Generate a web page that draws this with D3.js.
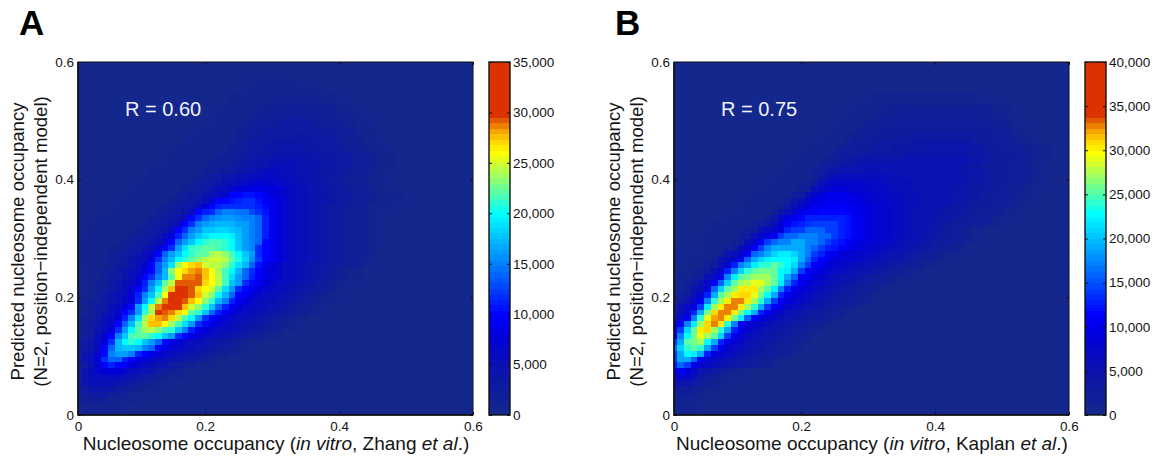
<!DOCTYPE html>
<html>
<head>
<meta charset="utf-8">
<script src="https://cdnjs.cloudflare.com/ajax/libs/d3/7.8.5/d3.min.js"></script>
<style>
	html, body { margin: 0; padding: 0; background: #fff; }
	svg { display: block; }
	text { font-family: "Liberation Sans", Arial, sans-serif; fill: #141414; }
</style>
</head>
<body>
<div id="viz"></div>
<script>
// counts in thousands. rowStart = first column that is listed, rest of the row is 0
const rowStartA = [0,0,0,0,0,0,0,0,0,0,0,0,0,0,0,0,0,0,0,0,0,0,0,1,1,0,0,0,0,0,0,1,2,3,4,5,6,7,8,9,10,11,12,13,14,15,16,17,18,19,20,21,22,23,23,25,26,27];
const rowsA = [
	[1,1,1,1,1,1],
	[1,1,1,1,1,1,1],
	[1,2,2,2,2,1,1,1,1],
	[2,2,3,3,3,2,2,1.5,1,1,1],
	[2,3,4,4,4,3.5,3,2.5,2,1.5,1,1,1],
	[2,4,5,5,5,5,4,3.5,3,2.5,2,1.5,1,1,1],
	[3,4,5,6,6,6,6,5,4.5,4,3,2.5,2,1.5,1,1,1],
	[2,4,6,7,8,8,8,7,6,5,4.5,4,3,2.5,2,1.5,1,1,1],
	[2,3,5,7,10,11,10,9,8,7,6,5,4.5,4,3,2.5,2,1.5,1,1,1],
	[3,4,6,8,12,14,14,11,10,8.5,7.5,6.5,5.5,5,4.5,4,3.5,3,2.5,2,1.5,1,1],
	[2,4,5,7,10,15,16,16,15,11,10,8.5,7.5,6.5,5.5,5,4.5,4,3.5,3,2.5,2,1.5,1,1],
	[2,3,4,6,10,14,17,18,18,17,15,14,10,8.5,7.5,6.5,5.5,5,4.5,4,3.5,3,2.5,2,1.5,1,1],
	[2,3,4,6,8,12,17,20,21,20,18,16,14,10,8.5,7.5,6.5,5.5,5,4.5,4,3.5,3,2.5,2,1.5,1,1],
	[1,2,3,5,7,10,15,18,21.5,22,22,21,20,18,16,12,10,8.5,7.5,6.5,5.5,5,4.5,4,3.5,3,2.5,2,1.5,1,1],
	[1,2,3,4,6,8,12,16,20,22,24,24.5,23,21.5,21,18,15,11,9,8,7,6,5.5,5,4.5,4,3.5,3,2.5,2,1.5,1,1],
	[1,2,3,4,5,7,10,14,17,21.5,24.5,27.5,27.8,26,24,21.5,19,16,12,10,8.5,7.5,6.5,5.5,5,4.5,4,3.5,3,2.5,2,1.5,1,1],
	[1,2,2,3,5,6,8,11,15,19,24,27,28,28.5,27,24.5,21.5,20,16,12,10,8.5,7.5,6.5,5.5,5,4.5,4,3.5,3,2.5,2,1.5,1,1],
	[1,1,2,3,4,5,7,10,12,16,21,24,31,29.5,28.5,27,26,22,21,18,14,11,9,8,7,6,5.5,5,4.5,4,3.5,3,2.5,2,1.5,1,1],
	[1,1,2,3,3,5,6,8,10,16,20,24.5,28.5,31,31,31,27.8,25,23,21,18,14,11,9,8,7,6,5.5,5,4.5,4,3.5,3,2.5,2,1.5,1,1],
	[1,1,2,2,3,4,5,7,8,12,16,20,24.5,28.5,31,31,29.5,27.8,26,23,21,17,15,11,9,8,7,6,5.5,5,4.5,4,3.5,3,2.5,2,1.5,1,1],
	[1,1,1,2,3,4,5,6,8,11,15,18,21.5,26,31,31,31,29,27.5,25,23,20,17,14,10,9,8,7,6,5.5,5,4.5,4,3.5,3,2.5,2,1.5,1,1],
	[0,1,1,2,2,3,4,6,7,10,12,16,20,24,27.8,31,31,29,27,26,25,22,19,16,12,10,9,8,7,6,5.5,5,4.5,4,3.5,3,2.5,2,1.5,1,1],
	[0,1,1,2,2,3,4,5,6,8,11,15,18,22,24.5,29,29.5,29,29,27,26,24.5,21.5,18,16,12,10,9,8,7,6,5.5,5,4.5,4,3.5,3,2.5,2,1.5,1,1],
	[1,1,1,2,3,3,4,5,7,10,12,15,17,22,26,28.5,28.5,29,27.8,26,24.5,21.5,19,16,14,11,9.5,8.5,7.5,7,6,5.5,5,4.5,4,3.5,3,2.5,2,1.5,1,1],
	[1,1,1,2,2,3,4,5,6,8,10,14,17,23,26,27,28,28.5,27.5,26,24,21.5,20,17,14,12,10,8.5,7.5,7,6,5.5,5,4.5,4,3.5,3,2.5,2,1.5,1,1],
	[1,1,1,1,1,2,3,3,4,5,7,10,14,16,19,24,26,27,27.8,25,24.5,24.5,23,21,19,17,14,10.5,9,8,7,6,5.5,5,4.5,4,3.5,3,3,2.5,2,2,1.5,1],
	[1,1,1,1,1,2,2,3,4,5,6,8,12,15,17,20,21,22,23.5,24.5,25,25,24.5,22,20.5,18.5,15.5,12.5,10,9,8,7,6,5.5,5,4.5,4,3.5,3,3,2.5,2,2,1.5,1],
	[1,1,1,1,1,2,2,3,3,4,5,7,10,14,16,18,20,21,22,22,24,24.5,23,21.5,20,18,16,12,10,9,8,7,6,5.5,5,4.5,4,3.5,3,3,2.5,2,2,1.5,1],
	[1,1,1,1,1,1,2,2,3,3,4,5,7,10,12,16,19,21,21.5,22,22,21.5,21,20,18,16,15,12,10,9,8,7,6,5.5,5,4.5,4,3.5,3,3,2.5,2,2,1.5,1],
	[1,1,1,1,1,1,1,2,2,3,3,4,5,7,10,14,16,18,20,21,21.5,21.5,21,20,18,16,15,14,10,9,8,7,6,5.5,5,4.5,4,3.5,3,3,2.5,2,2,1.5,1,1],
	[1,1,1,1,1,1,1,1,2,2,3,3,4,6,8,11,14,16,18,19,20,20,20,19.5,18,16,15,14,11,9,8,7,6,5.5,5,4.5,4,3.5,3,3,2.5,2,2,1.5,1,1],
	[1,1,1,1,1,1,1,1,2,2,3,3,4,6,10,12,15,16,17.5,18,18.5,18.5,18,17,16,15,14,11,9,8,7,6,5.5,5,4.5,4,3.5,3,3,2.5,2,2,1.5,1,1],
	[1,1,1,1,1,1,1,1,2,2,3,3,4,6,10,12,15,16,16.5,17,17,17,16,16,15,14,11,9,8,7,6,5.5,5,4.5,4,3.5,3,3,2.5,2,2,1.5,1,1],
	[1,1,1,1,1,1,1,1,2,2,3,3,4,6,10,12,14,15,15.5,16,16,15.5,15,15,14,11,9,8,7,6,5.5,5,4.5,4,3.5,3,3,2.5,2,2,1.5,1,1],
	[1,1,1,1,1,1,1,1,2,2,3,3,4,6,10,11,12,14,15,15,14.5,14.5,13,12,10.5,9,8,7,6,5.5,5,4.5,4,3.5,3,3,2.5,2,2,1.5,1,1,1],
	[1,1,1,1,1,1,1,1,2,2,3,3,4,6,8,10,11,11.5,12,12,12,12,11,10,9,8,7,6,5.5,5,4.5,4,3.5,3,3,2.5,2,2,1.5,1,1,1,1],
	[1,1,1,1,1,1,1,1,2,2,3,3,4,5,7,10,10,10.5,11,11.5,11.5,10.5,9.5,9,8,7,6,5.5,5,4.5,4,4,3.5,3,3,2.5,2,2,1.5,1,1,1,1],
	[1,1,1,1,1,1,1,1,2,2,3,3,4,5,6,7,10,10,10.5,10.5,10,9,8,7.5,7,6,5.5,5,4.5,4,4,3.5,3,3,2.5,2,2,1.5,1,1,1,1],
	[1,1,1,1,1,1,1,1,2,2,3,3,4,5,6,7,8,8,8.5,8.5,8.5,8,7.5,7,6,5.5,5,4.5,4,4,3.5,3,3,2.5,2,2,1.5,1,1,1],
	[1,1,1,1,1,1,1,1,2,2,3,3,4,5,5,6,6.5,7,7.5,7.5,7,6.5,6,5.5,5,4.5,4,4,3.5,3,3,2.5,2,2,1.5,1,1,1],
	[1,1,1,1,1,1,1,1,2,2,3,3,4,4,5,5,5.5,6,6.5,6.5,6,5.5,5,5,4.5,4,4,3.5,3,3,2.5,2,2,1.5,1,1,1],
	[1,1,1,1,1,1,1,1,2,2,2,3,3,3.5,4,4.5,5,5.5,5.5,5.5,5,5,4.5,4.5,4,4,3.5,3.5,3,3,2.5,2,2,1.5,1,1,1],
	[1,1,1,1,1,1,1,1,2,2,2,3,3,3.5,4,4,4.5,5,5,5,5,4.5,4.5,4,4,3.5,3.5,3,3,2.5,2,2,1.5,1,1,1],
	[1,1,1,1,1,1,1,1,2,2,2,2.5,3,3.5,4,4,4.5,4.5,4.5,4.5,4.5,4,4,4,3.5,3.5,3,3,2.5,2,2,1.5,1,1,1],
	[1,1,1,1,1,1,1,1,2,2,2.5,3,3,3.5,3.5,4,4,4,4,4,4,4,3.5,3.5,3.5,3,3,2.5,2,2,1.5,1,1,1],
	[1,1,1,1,1,1,1,1,2,2,2.5,3,3,3.5,3.5,3.5,4,4,4,3.5,3.5,3.5,3,3,3,2.5,2,2,1.5,1,1,1],
	[1,1,1,1,1,1,1,1,2,2.5,3,3,3,3.5,3.5,3.5,3.5,3.5,3.5,3.5,3,3,3,2.5,2,2,1.5,1,1,1],
	[1,1,1,1,1,1,1,1.5,2,2.5,2.5,3,3,3,3,3,3.5,3.5,3,3,3,2.5,2.5,2,2,1.5,1,1,1],
	[1,1,1,1,1,1,1.5,2,2,2.5,2.5,3,3,3,3,3,3,3,3,2.5,2.5,2,2,1.5,1,1,1],
	[1,1,1,1,1,1,1.5,2,2,2.5,2.5,2.5,3,3,3,3,2.5,2.5,2.5,2,2,1.5,1.5,1,1,1],
	[1,1,1,1,1,1,1.5,2,2,2,2.5,2.5,2.5,2.5,2.5,2.5,2,2,2,1.5,1.5,1,1,1],
	[1,1,1,1,1,1,1.5,1.5,2,2,2,2,2,2,2,2,2,1.5,1.5,1,1,1],
	[1,1,1,1,1,1,1.5,1.5,1.5,2,2,2,2,2,1.5,1.5,1.5,1,1,1],
	[1,1,1,1,1,1,1.5,1.5,1.5,1.5,1.5,1.5,1.5,1,1,1,1,1],
	[1,1,1,1,1,1,1,1,1,1,1,1,1,1,1,1,1],
	[1,1,1,1,1,1,1,1,1,1,1,1],
	[1,1,1,1,1,1,1,1],
	[1,1,1,1,1]
];

const rowStartB = [0,0,0,0,0,0,0,0,0,0,0,0,0,0,0,0,0,0,0,0,0,0,0,1,1,2,0,0,4,3,4,5,6,8,9,10,11,12,13,14,15,16,17,18,19,20,21,22,23,24,25,26,27,28,30];
const rowsB = [
	[1,1,1],
	[1,1,1,1],
	[1,1,1,1,1],
	[2,2,2,1.5,1,1],
	[3,3,3,2,1.5,1,1],
	[5,5,5,3.5,2.5,2,1.5,1,1],
	[7,8,7,6,4,3,2,1.5,1,1],
	[9,11,9,7,5.5,4.5,3.5,3,2,1.5,1,1],
	[13,16,14,10,8,7,6,5,4.5,4,3.5,3,2.5,2,1.5,1],
	[14,19,19,16,11,8,7,6,5,4.5,4,3.5,3,2.5,2,1.5,1],
	[14,19,23,22,19,13,9,8,7,6,5,4.5,4,3.5,3,2.5,2,1.5,1],
	[16,21,24,25,24,19,14,10,8,7,6,5,4.5,4,3.5,3,2.5,2,1.5,1],
	[14,19,25,26,27,23,19,13,10,8,7,6,5,4.5,4,3.5,3,2.5,2,1.5,1],
	[11,17,23,26,29,27,25,21,14,10,8,7,6,5,4.5,4,3.5,3,2.5,2,1.5,1],
	[8,14,21,25,30,31,27,24,19,13,10,8,7,6,5,4.5,4,3.5,3,2.5,2,1.5,1],
	[7,11,17,22,27,31,33,30,24,17,11,9,8,7,6,5,4.5,4,3.5,3,2.5,2,1.5,1],
	[5,7,11,17,24,29,32,33,30,26,22,16,11,9,8,7,6,5,4.5,4,3.5,3,2.5,2,1.5,1],
	[3,6,8,13,19,26,31,33,33,30,26,23,19,13,10,8,7,6,5,4.5,4,3.5,3,2.5,2,1.5,1],
	[2,5,7,9,14,22,27,30,33,33,30,27,24,19,14,11,9,8,7,6,5,4.5,4,3.5,3,2.5,2,1.5,1],
	[2,3,5,7,11,17,24,27,30,33,33,30,27,24,19,14,11,9,8,7,6,5,4.5,4,3.5,3,2.5,2,1.5,1],
	[1,2,3,6,8,13,19,25,27,30,31,31,29,26,23,19,13,10,9,8,7,6,5,4.5,4,3.5,3,2.5,2,1.5,1],
	[1,1,2,5,6,9,16,21,25,27,30,30,30,27,25,22,17,13,10,9,8,7,6,5,4.5,4,3.5,3,2.5,2,1.5,1],
	[1,1,2,3,5,7,11,16,21,25,27,28,29,29,27,25,22,17,13,10,9,8,7,6,5.5,5,4.5,4,3.5,3,2.5,2,1.5,1,1],
	[1,1,2,3,6,7,11,17,22,25,26,27,27,27,25,23,19,16,11,10,9,8,7,6,5.5,5,4.5,4,3.5,3,2.5,2,1.5,1,1],
	[1,1,1,2,3,6,8,13,17,21,24,25,26,26,25,23,22,19,14,11,10,9,8,7,6.5,6,5.5,5,4.5,4,3.5,3,2.5,2,1.5,1,1],
	[1,1,1,2,3,6,8,13,17,19,22,24,24,25,24,23,21,17,14,11,10,9,8,7.5,7,6.5,6,5.5,5,4.5,4,3.5,3,2.5,2,1.5,1,1],
	[1,1,1,1,1,1,2,5,6,8,11,16,19,21,22,23,23,23,22,19,16,13,11,10,9,8.5,8,7.5,7,6.5,6,5.5,5,4.5,4,3.5,3,2.5,2,1.5,1,1],
	[1,1,1,1,1,1,1,2,5,6,8,11,16,17,19,21,22,22,21,19,17,14,13,11,10,9,8.5,8,7.5,7,6.5,6,5.5,5,4.5,4,3.5,3,2.5,2,1.5,1,1],
	[1,1,1,1,2,3,6,8,11,14,17,19,19,19,19,19,17,16,14,13,12,11,10,9,8.5,8,7.5,7,6.5,6,5.5,5,4.5,4,3.5,3,2.5,2,1.5,1],
	[1,1,1,1,1,1,2,3,6,8,11,14,16,17,17,19,19,17,17,16,14,13,12,11,10,9,8.5,8,7.5,7,6.5,6,5.5,5,4.5,4,3.5,3,2.5,2,1.5,1,1],
	[1,1,1,1,1,1,2,3,6,8,9,11,14,16,16,17,17,17,16,16,14,13,12,11,10,9,8.5,8,7.5,7,6.5,6,5.5,5,4.5,4,3.5,3,2.5,2,1.5,1,1],
	[1,1,1,1,1,1,2,3,5,7,8,9,13,14,14,16,16,16,14,14,13,12,11,10,9,8.5,8,7.5,7,6.5,6,5.5,5,4.5,4,3.5,3,2.5,2,1.5,1,1],
	[1,1,1,1,1,1,2,3,4,6,9,11,12,13,13.5,14,14,14,14,13,12,11,10,9,8.5,8,7.5,7,6.5,6,5.5,5,4.5,4,4,3.5,3,3,2.5,2,2,1.5,1,1],
	[1,1,1,1,1,1,2,4,7,9,10,11.5,12.5,13,13,13,13,13,12,11,10,9,8.5,8,7.5,7,6.5,6,5.5,5,5,4.5,4,4,3.5,3,3,2.5,2,2,1.5,1,1],
	[1,1,1,1,1,1,2,4,6,8,10,11,11,11.5,11.5,11.5,11.5,11,10.5,10,9,8.5,8,7.5,7,6.5,6,5.5,5.5,5,5,4.5,4,4,3.5,3,3,2.5,2,2,1.5,1,1],
	[1,1,1,1,1,1,2,4,6,8,9,10,10.5,11,11,11,10.5,10,9.5,9,8.5,8,7.5,7,6.5,6,6,5.5,5.5,5,5,4.5,4,4,3.5,3,3,2.5,2,2,1.5,1,1],
	[1,1,1,1,1,1,2,4,6,8,9,10,10.5,10.5,10.5,10,9.5,9,8.5,8,7.5,7,7,6.5,6,6,5.5,5.5,5,5,5,4.5,4,4,3.5,3,3,2.5,2,2,1.5,1,1],
	[1,1,1,1,1,1,2,3,6,8,9,10,10,10,9.5,9,8.5,8,7.5,7,7,6.5,6.5,6,6,5.5,5.5,5,5,5,4.5,4.5,4,4,3.5,3,3,2.5,2,2,1.5,1,1],
	[1,1,1,1,1,1,2,3,6,7,8,8.5,9,8.5,8,8,7.5,7,7,6.5,6.5,6,6,5.5,5.5,5,5,5,5,4.5,4.5,4,4,3.5,3.5,3,2.5,2,2,1.5,1,1],
	[1,1,1,1,1,1,2,3,6,7,7.5,8,8,7.5,7.5,7,7,6.5,6.5,6,6,6,5.5,5.5,5,5,5,5,4.5,4.5,4.5,4,4,3.5,3,3,2.5,2,2,1.5,1,1],
	[1,1,1,1,1,1,2,3.5,5,6,6.5,6.5,6.5,6.5,6.5,6.5,6.5,6,6,6,5.5,5.5,5,5,5,5,5,5,4.5,4.5,4,4,3.5,3,3,2.5,2,2,1.5,1,1],
	[1,1,1,1,1,2,2.5,3.5,4.5,5,5.5,5.5,5.5,6,6,5.5,5.5,5.5,5.5,5.5,5,5,5,5,5,5,5,4.5,4.5,4.5,4,3.5,3,3,2.5,2.5,2,2,1.5,1,1],
	[1,1,1,1,1,2,2.5,3.5,4,4.5,4.5,5,5,5,5,5,5,5,5,5,5,5,5,5,5,5,4.5,4.5,4,3.5,3,3,2.5,2.5,2,2,1.5,1,1],
	[1,1,1,1,1,2,2.5,3,3.5,4,4,4.5,4.5,4.5,4.5,4.5,4.5,5,5,5,5,5,5,5,5,5,5,4.5,4,3.5,3,3,2.5,2.5,2,2,1.5,1,1],
	[1,1,1,1,1,2,2.5,3,3,3.5,3.5,4,4,4,4,4,4.5,4.5,4.5,4.5,4.5,4.5,4.5,4.5,4.5,4.5,4,4,3.5,3,3,2.5,2.5,2,2,1.5,1,1],
	[1,1,1,1,1,2,2.5,3,3,3,3.5,3.5,3.5,4,4,4,4,4,4,4.5,4.5,4.5,4.5,4.5,4.5,4,4,3.5,3,3,2.5,2,2,1.5,1.5,1,1],
	[1,1,1,1,1,2,2.5,2.5,3,3,3,3.5,3.5,3.5,3.5,4,4,4,4,4,4,4,4,4,3.5,3,3,2.5,2.5,2,2,1.5,1,1],
	[1,1,1,1,1,2,2,2.5,2.5,3,3,3,3,3.5,3.5,3.5,3.5,3.5,3.5,3.5,3.5,3.5,3.5,3,3,2.5,2.5,2,2,1.5,1,1],
	[1,1,1,1,1,2,2,2,2.5,2.5,2.5,3,3,3,3,3,3,3,3,3,3,3,3,2.5,2.5,2,2,1.5,1,1],
	[1,1,1,1,1,2,2,2,2,2.5,2.5,2.5,2.5,2.5,2.5,2.5,2.5,2.5,2.5,2.5,2.5,2.5,2.5,2,2,2,1.5,1,1],
	[1,1,1,1,1,1.5,2,2,2,2,2,2,2,2,2,2,2,2,2,2,2,2,2,1.5,1.5,1,1],
	[1,1,1,1,1,1.5,1.5,1.5,2,2,2,2,2,2,2,2,2,2,2,2,2,1.5,1.5,1,1],
	[1,1,1,1,1,1.5,1.5,1.5,1.5,1.5,1.5,1.5,1.5,1.5,1.5,1.5,1.5,1.5,1.5,1.5,1.5,1,1,1],
	[1,1,1,1,1,1,1,1,1,1,1,1,1,1,1,1,1,1,1,1],
	[1,1,1,1,1,1,1,1,1,1,1,1,1,1,1,1]
];

const axisTicks = [0.01, 0.2, 0.4, 0.6];
const axisTickLabels = ['0', '0.2', '0.4', '0.6'];
const yTicks = [0, 0.2, 0.4, 0.6];
const barTicksA = [0, 5000, 10000, 15000, 20000, 25000, 30000, 35000];
const barTicksB = [0, 5000, 10000, 15000, 20000, 25000, 30000, 35000, 40000];

// colour bar, position as share of its height
const colorPos = [0, 0.0714, 0.143, 0.229, 0.286, 0.571, 0.743, 0.784, 0.814, 0.84, 0.851, 1];
const colorVal = ['#14288a', '#0f1c9c', '#0a10b4', '#0000dc', '#0000ff', '#00ffff', '#ffff00', '#ffcc00', '#f09000', '#e05000', '#dc3200', '#dc3200'];
const nLevels = 64;

const panels = [
	{ letter: 'A', r: 'R = 0.60', left: 78, rows: rowsA, starts: rowStartA, max: 35000, barTicks: barTicksA, source: 'Zhang' },
	{ letter: 'B', r: 'R = 0.75', left: 674, rows: rowsB, starts: rowStartB, max: 40000, barTicks: barTicksB, source: 'Kaplan' }
];

let plotTop = 62, plotBottom = 415, plotW = 395, barGap = 16, barW = 21;

let svg = d3.select('#viz').append('svg')
	.attr('width', 1156)
	.attr('height', 457);

function boxAxis(g, axis) {
	g.call(axis);
	g.select('.domain').remove();
	g.selectAll('.tick line').attr('stroke', '#111').attr('stroke-width', 1);
}

function drawPanel(p, idx) {
	let root = svg.append('g').attr('transform', `translate(${p.left},${plotTop})`);
	let h = plotBottom - plotTop;

	let x = d3.scaleLinear().domain([0.01, 0.6]).range([0, plotW]);
	let y = d3.scaleLinear().domain([0, 0.6]).range([h, 0]);

	let levelColor = d3.scaleLinear()
		.domain(colorPos)
		.range(colorVal)
		.interpolate(d3.interpolateRgb);

	let color = d3.scaleQuantize()
		.domain([0, p.max])
		.range(d3.range(nLevels).map(i => levelColor((i + 0.5) / nLevels)));

	let cells = [];
	p.rows.forEach((row, r) => {
		row.forEach((v, k) => cells.push({ r, c: p.starts[r] + k, v: v * 1000 }));
	});

	root.append('clipPath').attr('id', 'clip' + idx)
		.append('rect').attr('width', plotW).attr('height', h);

	let plot = root.append('g').attr('clip-path', `url(#clip${idx})`);

	plot.append('rect')
		.attr('width', plotW)
		.attr('height', h)
		.attr('fill', color(0));

	let cw = x(0.02) - x(0.01);

	plot.selectAll('.cell')
		.data(cells)
		.join('rect')
		.attr('class', 'cell')
		.attr('x', d => x((d.c + 1) / 100) - cw / 2)
		.attr('y', d => y((d.r + 1) / 100))
		.attr('width', cw + 0.4)
		.attr('height', y(0) - y(0.01) + 0.4)
		.attr('fill', d => color(d.v))
		.attr('shape-rendering', 'crispEdges');

	// axes, box ticks point inwards
	let xFmt = d => axisTickLabels[axisTicks.indexOf(d)];

	let xAxis = root.append('g').attr('transform', `translate(0,${h})`);
	boxAxis(xAxis, d3.axisBottom(x).tickValues(axisTicks).tickSizeInner(-3).tickSizeOuter(0).tickPadding(8).tickFormat(xFmt));
	xAxis.selectAll('text').attr('font-size', 13.5).attr('dy', '0.71em').attr('y', 6);

	let xTop = root.append('g');
	boxAxis(xTop, d3.axisTop(x).tickValues(axisTicks).tickSizeInner(-3).tickSizeOuter(0).tickFormat(''));

	let yAxis = root.append('g');
	boxAxis(yAxis, d3.axisLeft(y).tickValues(yTicks).tickSizeInner(-3).tickSizeOuter(0).tickPadding(4).tickFormat(d => d === 0 ? '0' : d3.format('.1f')(d)));
	yAxis.selectAll('text').attr('font-size', 13.5);

	let yRight = root.append('g').attr('transform', `translate(${plotW},0)`);
	boxAxis(yRight, d3.axisRight(y).tickValues(yTicks).tickSizeInner(-3).tickSizeOuter(0).tickFormat(''));

	root.append('rect')
		.attr('width', plotW)
		.attr('height', h)
		.attr('fill', 'none')
		.attr('stroke', '#111')
		.attr('stroke-width', 1);

	root.append('path')
		.attr('d', d3.line()([[0, 0], [0, h], [plotW, h]]))
		.attr('fill', 'none')
		.attr('stroke', '#111')
		.attr('stroke-width', 1.6);

	// R label
	root.append('text')
		.text(p.r)
		.attr('x', 47)
		.attr('y', 54)
		.attr('font-size', 20)
		.style('fill', '#eef2fa');

	// panel letter
	svg.append('text')
		.text(p.letter)
		.attr('x', p.left - 59)
		.attr('y', 35)
		.attr('font-size', 35)
		.attr('font-weight', 'bold')
		.style('fill', '#000');

	// x title
	let xTitle = root.append('text')
		.attr('x', plotW / 2 + 0.5)
		.attr('y', h + 35)
		.attr('text-anchor', 'middle')
		.attr('font-size', 19);
	xTitle.append('tspan').text('Nucleosome occupancy (');
	xTitle.append('tspan').text('in vitro').attr('font-style', 'italic');
	xTitle.append('tspan').text(`, ${p.source} `);
	xTitle.append('tspan').text('et al').attr('font-style', 'italic');
	xTitle.append('tspan').text('.)');

	// y title, two lines
	let yTitle = root.append('g').attr('transform', `translate(-50,${h / 2 + 3}) rotate(-90)`);
	yTitle.append('text')
		.text('Predicted nucleosome occupancy')
		.attr('x', 0)
		.attr('y', -4)
		.attr('text-anchor', 'middle')
		.attr('font-size', 18.6);
	yTitle.append('text')
		.text('(N=2, position\u2212independent model)')
		.attr('x', 0)
		.attr('y', 19)
		.attr('text-anchor', 'middle')
		.attr('font-size', 18.6);

	// colour bar
	let bar = root.append('g').attr('transform', `translate(${plotW + barGap},0)`);
	let barY = d3.scaleLinear().domain([0, p.max]).range([h, 0]);
	let step = p.max / nLevels;

	bar.selectAll('.level')
		.data(d3.range(nLevels))
		.join('rect')
		.attr('class', 'level')
		.attr('x', 0)
		.attr('y', i => barY((i + 1) * step))
		.attr('width', barW)
		.attr('height', barY(0) - barY(step) + 0.4)
		.attr('fill', i => color(i * step + step / 2))
		.attr('shape-rendering', 'crispEdges');

	let barLeft = bar.append('g');
	boxAxis(barLeft, d3.axisLeft(barY).tickValues(p.barTicks).tickSizeInner(-3).tickSizeOuter(0).tickFormat(''));

	let barRight = bar.append('g').attr('transform', `translate(${barW},0)`);
	boxAxis(barRight, d3.axisRight(barY).tickValues(p.barTicks).tickSizeInner(-3).tickSizeOuter(0).tickPadding(3).tickFormat(d3.format(',')));
	barRight.selectAll('text').attr('font-size', 13.5).attr('x', 3);

	bar.append('rect')
		.attr('width', barW)
		.attr('height', h)
		.attr('fill', 'none')
		.attr('stroke', '#111')
		.attr('stroke-width', 1.4);
}

panels.forEach(drawPanel);
</script>
</body>
</html>
